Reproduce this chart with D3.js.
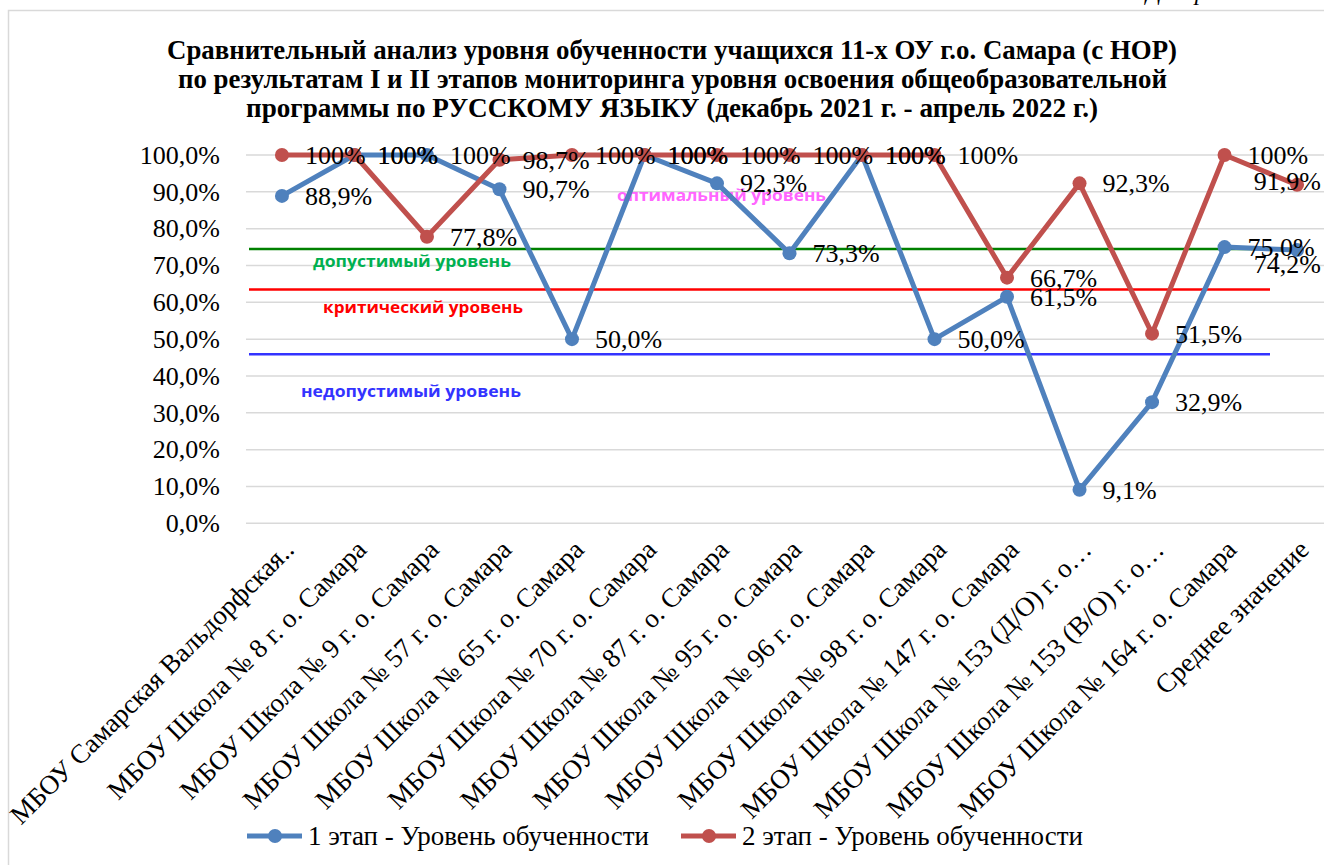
<!DOCTYPE html>
<html>
<head>
<meta charset="utf-8">
<script src="https://cdn.jsdelivr.net/npm/d3@7"></script>
<style>
  html, body { margin: 0; padding: 0; background: #fff; }
  svg { display: block; }
</style>
</head>
<body>
<svg id="chart" width="1324" height="865"></svg>
<script>
const categories = [
  "МБОУ Самарская Вальдорфская..",
  "МБОУ Школа № 8 г. о. Самара",
  "МБОУ Школа № 9 г. о. Самара",
  "МБОУ Школа № 57 г. о. Самара",
  "МБОУ Школа № 65 г. о. Самара",
  "МБОУ Школа № 70 г. о. Самара",
  "МБОУ Школа № 87 г. о. Самара",
  "МБОУ Школа № 95 г. о. Самара",
  "МБОУ Школа № 96 г. о. Самара",
  "МБОУ Школа № 98 г. о. Самара",
  "МБОУ Школа № 147 г. о. Самара",
  "МБОУ Школа № 153 (Д/О) г. о…",
  "МБОУ Школа № 153 (В/О) г. о…",
  "МБОУ Школа № 164 г. о. Самара",
  "Среднее значение"
];
const stage1 = [88.9, 100, 100, 90.7, 50.0, 100, 92.3, 73.3, 100, 50.0, 61.5, 9.1, 32.9, 75.0, 74.2];
const stage2 = [100, 100, 77.8, 98.7, 100, 100, 100, 100, 100, 100, 66.7, 92.3, 51.5, 100, 91.9];
const seriesNames = ["1 этап - Уровень обученности", "2 этап - Уровень обученности"];
const yTicks = [0, 10, 20, 30, 40, 50, 60, 70, 80, 90, 100];
const levelValues = [74.5, 63.5, 45.9];
const levelNames = ["оптимальный уровень", "допустимый уровень", "критический уровень", "недопустимый уровень"];
const titleLines = [
  "Сравнительный анализ уровня обученности учащихся 11-х ОУ г.о. Самара (с НОР)",
  "по результатам I и II этапов мониторинга уровня освоения общеобразовательной",
  "программы по РУССКОМУ ЯЗЫКУ  (декабрь 2021 г. - апрель 2022 г.)"
];

const svg = d3.select("#chart");
const serif = "'Liberation Serif', 'Times New Roman', serif";
const sans = "'Open Sans', 'DejaVu Sans', sans-serif";
const colors = ["#4F81BD", "#C0504D"];
const FS = 26;

// outer frame
svg.append("rect").attr("x", 8.5).attr("y", 10.5).attr("width", 1400).attr("height", 900)
  .attr("fill", "none").attr("stroke", "#d9d9d9").attr("stroke-width", 1.5);

// cropped caption at top
svg.append("text").attr("x", 1146).attr("y", 0).attr("font-family", serif)
  .attr("font-style", "italic").attr("font-size", 24).attr("fill", "#000").text("Диаграмма");

// title
const titleW = [1010, 989, 852];
const titleX = [167, 178, 246];
const titleY = [59, 88, 117];
titleLines.forEach((t, i) => {
  svg.append("text").attr("x", titleX[i]).attr("y", titleY[i])
    .attr("font-family", serif).attr("font-weight", "bold").attr("font-size", 27)
    .attr("textLength", titleW[i]).attr("lengthAdjust", "spacingAndGlyphs")
    .attr("fill", "#000").text(t);
});

const x = d3.scalePoint().domain(categories).range([245.7, 1333.3]).padding(0.5);
const y = d3.scaleLinear().domain([0, 100]).range([523.3, 155]);

// gridlines
svg.append("g").selectAll("line").data(yTicks).join("line")
  .attr("x1", 246).attr("x2", 1340)
  .attr("y1", d => y(d)).attr("y2", d => y(d))
  .attr("stroke", "#d9d9d9").attr("stroke-width", 1.5);

// y axis
const yAxis = svg.append("g").attr("transform", "translate(220,0)")
  .call(d3.axisLeft(y).tickValues(yTicks).tickSize(0).tickPadding(0)
    .tickFormat(d => d.toFixed(1).replace(".", ",") + "%"));
yAxis.select(".domain").remove();
yAxis.selectAll("text").attr("font-family", serif).attr("font-size", FS).attr("fill", "#000");

// x axis labels
const xAxis = svg.append("g").attr("transform", "translate(0,523.3)")
  .call(d3.axisBottom(x).tickSize(0).tickPadding(0));
xAxis.select(".domain").remove();
xAxis.selectAll(".tick text")
  .attr("font-family", serif).attr("font-size", 27).attr("fill", "#000")
  .attr("text-anchor", "end").attr("dy", 0).attr("y", 0)
  .attr("transform", "translate(13,28) rotate(-45)");

// level lines
const levelColors = ["#008000", "#FF0000", "#3333FF"];
svg.append("g").selectAll("line").data(levelValues).join("line")
  .attr("x1", 249).attr("x2", 1270)
  .attr("y1", d => y(d)).attr("y2", d => y(d))
  .attr("stroke", (d, i) => levelColors[i]).attr("stroke-width", 2.5);

// level labels
const lvlLabel = [
  {x: 617, y: 195, w: 209, c: "#FF66FF"},
  {x: 313, y: 261, w: 198, c: "#00B050"},
  {x: 323, y: 307, w: 200, c: "#FF0000"},
  {x: 301, y: 391, w: 220, c: "#3333FF"}
];
levelNames.forEach((n, i) => {
  const L = lvlLabel[i];
  svg.append("text").attr("x", L.x).attr("y", L.y).attr("dy", "0.35em")
    .attr("font-family", sans).attr("font-weight", "bold").attr("font-size", 16)
    .attr("textLength", L.w).attr("lengthAdjust", "spacingAndGlyphs")
    .attr("fill", L.c).text(n);
});

// series
const fmt = v => v === 100 ? "100%" : v.toFixed(1).replace(".", ",") + "%";
[stage1, stage2].forEach((vals, si) => {
  const g = svg.append("g");
  const line = d3.line().x((d, i) => x(categories[i])).y(d => y(d));
  g.append("path").datum(vals).attr("d", line)
    .attr("fill", "none").attr("stroke", colors[si]).attr("stroke-width", 5)
    .attr("stroke-linejoin", "round");
  g.selectAll("circle").data(vals).join("circle")
    .attr("cx", (d, i) => x(categories[i])).attr("cy", d => y(d)).attr("r", 7)
    .attr("fill", colors[si]);
});
// data labels, placed right of the point; labels that would overflow the
// chart's right edge are pulled inside (as Excel does) and nudged apart.
const rightEdge = 1321;
const overflowNudge = [14, -4];
[stage1, stage2].forEach((vals, si) => {
  svg.append("g").selectAll("text").data(vals).join("text")
    .attr("x", (d, i) => x(categories[i]) + 23).attr("y", d => y(d)).attr("dy", "0.35em")
    .attr("font-family", serif).attr("font-size", FS).attr("fill", "#000")
    .text(d => fmt(d))
    .each(function() {
      const t = d3.select(this);
      const w = this.getComputedTextLength();
      const x0 = +t.attr("x");
      if (x0 + w > rightEdge) {
        t.attr("x", rightEdge).attr("text-anchor", "end")
         .attr("y", +t.attr("y") + overflowNudge[si]);
      }
    });
});

// legend
const legX = [247, 681];
const legY = 836;
seriesNames.forEach((n, i) => {
  const g = svg.append("g");
  g.append("line").attr("x1", legX[i]).attr("x2", legX[i] + 55).attr("y1", legY).attr("y2", legY)
    .attr("stroke", colors[i]).attr("stroke-width", 5);
  g.append("circle").attr("cx", legX[i] + 28).attr("cy", legY).attr("r", 7).attr("fill", colors[i]);
  g.append("text").attr("x", legX[i] + 61).attr("y", legY).attr("dy", "0.35em")
    .attr("font-family", serif).attr("font-size", 27).attr("fill", "#000").text(n);
});
</script>
</body>
</html>
